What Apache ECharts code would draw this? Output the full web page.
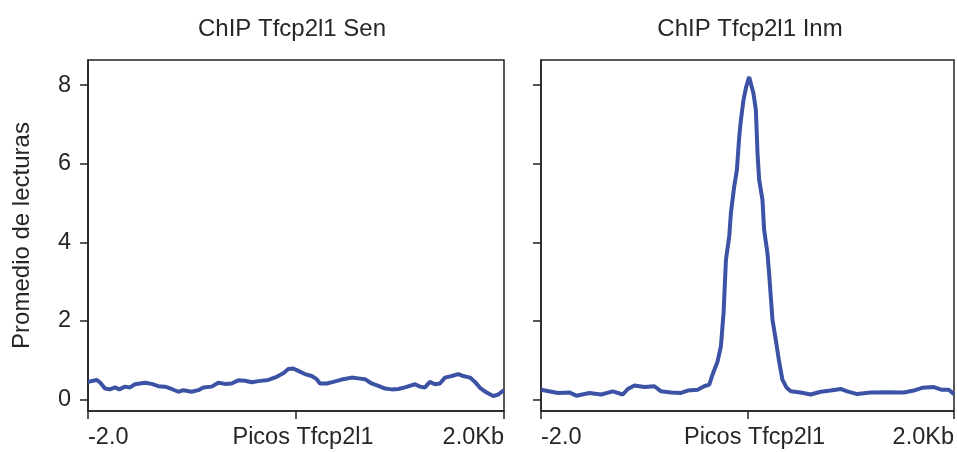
<!DOCTYPE html>
<html>
<head>
<meta charset="utf-8">
<script src="https://cdn.jsdelivr.net/npm/echarts@6/dist/echarts.min.js"></script>
<style>html,body{margin:0;padding:0;background:#fff}#c{width:957px;height:452px}</style>
</head>
<body>
<div id="c"></div>
<script>
// Panel titles and axis text
var panelTitles = ['ChIP Tfcp2l1 Sen', 'ChIP Tfcp2l1 Inm'];
var yAxisName = 'Promedio de lecturas';
var yTickValues = [0, 2, 4, 6, 8];
var xTickLabels = {'-2000': '-2.0', '0': 'Picos Tfcp2l1', '2000': '2.0Kb'};

// Sen panel: position (bp from peak) and mean reads
var posSen = [-2000,-1917,-1885,-1837,-1788,-1740,-1699,-1644,-1596,-1548,-1452,-1388,-1324,-1260,-1196,-1131,-1083,-1003,-939,-891,-811,-747,-683,-619,-555,-490,-426,-362,-266,-186,-122,-74,-26,22,86,151,199,231,295,359,439,535,599,663,727,792,856,920,984,1048,1144,1192,1240,1287,1336,1384,1432,1497,1561,1609,1673,1721,1769,1833,1897,1945,2000];
var valSen = [0.45,0.50,0.44,0.28,0.26,0.31,0.26,0.33,0.31,0.39,0.43,0.40,0.34,0.33,0.27,0.20,0.24,0.20,0.24,0.31,0.33,0.43,0.40,0.41,0.49,0.48,0.44,0.47,0.50,0.58,0.67,0.78,0.79,0.73,0.65,0.60,0.52,0.41,0.41,0.45,0.51,0.56,0.54,0.52,0.41,0.35,0.28,0.26,0.27,0.31,0.39,0.33,0.31,0.45,0.39,0.41,0.56,0.60,0.65,0.60,0.56,0.45,0.30,0.18,0.09,0.13,0.24];

// Inm panel
var posInm = [-2000,-1836,-1723,-1659,-1530,-1417,-1304,-1208,-1159,-1095,-998,-902,-837,-741,-644,-580,-483,-419,-370,-338,-290,-258,-232,-209,-177,-161,-129,-103,-80,-64,-39,-16,16,32,58,81,97,113,145,161,193,209,242,274,306,338,380,419,515,612,709,805,902,966,1063,1192,1353,1514,1610,1691,1804,1884,1949,2000];
var valInm = [0.25,0.17,0.18,0.10,0.17,0.13,0.21,0.13,0.27,0.36,0.32,0.34,0.21,0.18,0.17,0.23,0.25,0.34,0.38,0.64,0.97,1.35,2.20,3.55,4.15,4.74,5.42,5.84,6.69,7.11,7.62,7.92,8.21,8.23,7.79,7.37,6.27,5.59,5.08,4.32,3.73,3.22,2.03,1.52,0.97,0.51,0.30,0.21,0.18,0.13,0.20,0.23,0.27,0.21,0.14,0.18,0.19,0.18,0.23,0.30,0.32,0.25,0.25,0.14];

function pairs(p, v) { return p.map(function (x, i) { return [x, v[i]]; }); }

var FONT = 'Liberation Sans, Arial, sans-serif';
var TXT = '#262626';
var AX = '#222';
var LINE = '#3b52a5';

var grids = [
  {left: 88, width: 416, top: 60, height: 351},
  {left: 541, width: 414, top: 60, height: 351}
];

function xAxis(i) {
  return {
    type: 'value', gridIndex: i, min: -2000, max: 2000, interval: 2000,
    axisLine: {show: true, onZero: false, lineStyle: {color: AX, width: 1.5}},
    axisTick: {show: true, length: 8, lineStyle: {color: AX, width: 1.5}},
    splitLine: {show: false},
    axisLabel: {
      margin: 15, fontSize: 23.5, color: TXT, fontFamily: FONT,
      alignMinLabel: 'left', alignMaxLabel: 'right',
      formatter: function (v) {
        var s = xTickLabels[String(v)] || '';
        return v === 0 ? '{c|' + s + '}' : s;
      },
      rich: {c: {fontSize: 23.5, color: TXT, fontFamily: FONT, padding: [0, 0, 0, 14]}}
    }
  };
}
function yAxis(i) {
  return {
    type: 'value', gridIndex: i, min: -0.29, max: 8.64,
    name: i === 0 ? yAxisName : '',
    nameLocation: 'middle', nameGap: 54, nameRotate: 90,
    nameTextStyle: {fontSize: 24, color: TXT, fontFamily: FONT},
    axisLine: {show: true, onZero: false, lineStyle: {color: AX, width: 1.5}},
    axisTick: {show: true, length: 8, customValues: yTickValues, lineStyle: {color: AX, width: 1.5}},
    splitLine: {show: false},
    axisLabel: {
      show: i === 0, margin: 17, fontSize: 23.5, color: TXT, fontFamily: FONT,
      customValues: yTickValues
    }
  };
}

var chart = echarts.init(document.getElementById('c'), null, {renderer: 'canvas'});
chart.setOption({
  backgroundColor: '#fff',
  animation: false,
  title: [
    {text: panelTitles[0], left: 287, top: 12, textAlign: 'center',
     textStyle: {fontSize: 24, fontWeight: 'normal', color: TXT, fontFamily: FONT}},
    {text: panelTitles[1], left: 745, top: 12, textAlign: 'center',
     textStyle: {fontSize: 24, fontWeight: 'normal', color: TXT, fontFamily: FONT}}
  ],
  grid: grids.map(function (g) {
    return Object.assign({show: true, borderColor: AX, borderWidth: 1.5, backgroundColor: 'transparent', containLabel: false}, g);
  }),
  xAxis: [xAxis(0), xAxis(1)],
  yAxis: [yAxis(0), yAxis(1)],
  series: [
    {type: 'line', xAxisIndex: 0, yAxisIndex: 0, data: pairs(posSen, valSen), showSymbol: false,
     lineStyle: {color: LINE, width: 4}, itemStyle: {color: LINE}},
    {type: 'line', xAxisIndex: 1, yAxisIndex: 1, data: pairs(posInm, valInm), showSymbol: false,
     lineStyle: {color: LINE, width: 4}, itemStyle: {color: LINE}}
  ]
});
</script>
</body>
</html>
